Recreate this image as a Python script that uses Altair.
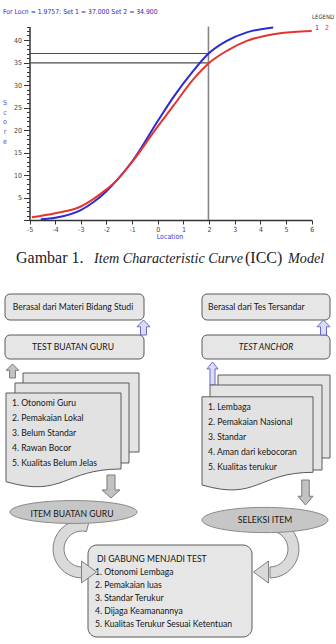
import math
import altair as alt
import pandas as pd

# ---------------- ICC chart values ----------------
location_ticks = list(range(-5, 7))
score_ticks = list(range(0, 44))
blue_x = [-4.56, -4, -3, -2.5, -2, -1.6, -1, 0, 0.61, 1.39, 2, 2.69, 3.47, 4.5]
blue_y = [0.15, 0.5, 2.2, 4.0, 6.4, 8.8, 13.0, 22.0, 27.3, 33.2, 37.1, 39.8, 41.7, 42.8]
red_x = [-4.91, -4, -3, -2.5, -2, -1.6, -1, 0, 0.61, 1.39, 2, 2.69, 3.47, 4.5, 5.28, 6.0]
red_y = [0.6, 1.5, 3.0, 4.7, 6.8, 8.8, 12.9, 20.8, 25.4, 31.3, 34.9, 37.6, 39.8, 41.3, 41.8, 42.0]
set_names = ["1", "2"]
set_colors = ["#2a2ad4", "#e5332e"]
locn = 1.9757
set_values = [37.0, 34.9]

# ---------------- text content ----------------
header = f"For Locn = {locn:.4f}: Set 1 = {set_values[0]:.3f} Set 2 = {set_values[1]:.3f}"
caption_parts = ["Gambar 1.", "Item Characteristic Curve", "(ICC)", "Model"]
box_top_left = "Berasal dari Materi Bidang Studi"
box_top_right = "Berasal dari Tes  Tersandar"
box_mid_left = "TEST BUATAN GURU"
box_mid_right = "TEST ANCHOR"
doc_left = ["1. Otonomi Guru", "2. Pemakaian Lokal", "3. Belum Standar",
            "4. Rawan Bocor", "5. Kualitas Belum Jelas"]
doc_right = ["1. Lembaga", "2. Pemakaian Nasional", "3. Standar",
             "4. Aman dari kebocoran", "5. Kualitas terukur"]
ellipse_left = "ITEM BUATAN GURU"
ellipse_right = "SELEKSI ITEM"
final_lines = ["DI GABUNG MENJADI TEST", "1. Otonomi Lembaga", "2. Pemakaian luas",
               "3. Standar  Terukur", "4. Dijaga Keamanannya",
               "5. Kualitas Terukur Sesuai Ketentuan"]

NARROW = "Liberation Sans Narrow, DejaVu Sans Condensed, Liberation Sans, sans-serif"
SERIF = "Liberation Serif, DejaVu Serif, serif"
BOXFONT = "Lato, Open Sans, sans-serif"

# ---------------- ICC group ----------------
xs = alt.Scale(domain=[-5, 6], range=[29.5, 311.7], nice=False, zero=False)
ys = alt.Scale(domain=[0, 43], range=[220, 26.5], nice=False, zero=False)

x_axis = alt.Axis(values=location_ticks, orient="bottom", offset=-424, title=None,
                  grid=False, domainColor="#333333", domainWidth=1.5, tickColor="#333333",
                  tickSize=4, tickWidth=1, labelFontSize=7, labelColor="#444444",
                  labelFont=NARROW, labelPadding=1, labelFlush=False, labelOverlap=False,
                  labelExpr="replace(datum.label, '\u2212', '-')")
y_axis = alt.Axis(values=score_ticks, orient="left", offset=-29.5, title=None, grid=False,
                  domainColor="#333333", domainWidth=1.5, tickColor="#333333", tickWidth=1,
                  tickSize={"condition": {"test": "datum.value % 5 === 0", "value": 6}, "value": 3},
                  labelExpr="datum.value % 5 === 0 && datum.value > 0 ? datum.label : ''",
                  labelFontSize=7, labelColor="#444444", labelFont=NARROW, labelPadding=2,
                  labelOverlap=False)

curves = pd.DataFrame({
    "loc": blue_x + red_x,
    "score": blue_y + red_y,
    "set": [set_names[0]] * len(blue_x) + [set_names[1]] * len(red_x),
})
href = pd.DataFrame({"x0": [-5, -5], "x1": [locn, locn], "y": set_values})
vref = pd.DataFrame({"x": [locn], "y0": [0], "y1": [43]})

h_rules = alt.Chart(href).mark_rule(color="#4d4d4d", strokeWidth=1.2).encode(
    x=alt.X("x0:Q", scale=xs, axis=x_axis), x2="x1:Q",
    y=alt.Y("y:Q", scale=ys, axis=y_axis))
v_rule = alt.Chart(vref).mark_rule(color="#858585", strokeWidth=1.6).encode(
    x=alt.X("x:Q", scale=xs, axis=x_axis), y=alt.Y("y0:Q", scale=ys, axis=y_axis), y2="y1:Q")
lines = alt.Chart(curves).mark_line(strokeWidth=2, interpolate="monotone").encode(
    x=alt.X("loc:Q", scale=xs, axis=x_axis), y=alt.Y("score:Q", scale=ys, axis=y_axis),
    color=alt.Color("set:N", scale=alt.Scale(domain=set_names, range=set_colors), legend=None))

icc = alt.layer(h_rules, v_rule, lines)

# ---------------- pixel-space group (annotations, caption, flowchart) ----------------
PX = alt.Scale(domain=[0, 336], range=[0, 336], nice=False, zero=False)
PY = alt.Scale(domain=[0, 644], range=[0, 644], nice=False, zero=False)


def xy(xf="x", yf="y"):
    return {"x": alt.X(f"{xf}:Q", scale=PX, axis=None), "y": alt.Y(f"{yf}:Q", scale=PY, axis=None)}


def texts(rows, **mk):
    df = pd.DataFrame(rows, columns=["t", "x", "y"])
    return alt.Chart(df).mark_text(**mk).encode(**xy(), text="t:N")


def rects(rows, **mk):
    df = pd.DataFrame(rows, columns=["x0", "x1", "y0", "y1"])
    return alt.Chart(df).mark_rect(**mk).encode(
        x=alt.X("x0:Q", scale=PX, axis=None), x2="x1:Q",
        y=alt.Y("y0:Q", scale=PY, axis=None), y2="y1:Q")


def symbols(rows):
    df = pd.DataFrame(rows, columns=["path", "x", "y", "size", "fill", "stroke"])
    return alt.Chart(df).mark_point(filled=True, opacity=1, strokeWidth=1).encode(
        **xy(),
        shape=alt.Shape("path:N", scale=None),
        size=alt.Size("size:Q", scale=None),
        fill=alt.Fill("fill:N", scale=None),
        stroke=alt.Stroke("stroke:N", scale=None))


def up_arrow(hw, sw, neck):
    return f"M {-sw} 1 L {-sw} {neck} L {-hw} {neck} L 0 -1 L {hw} {neck} L {sw} {neck} L {sw} 1 Z"


def down_arrow(hw, sw, neck):
    return f"M {-sw} -1 L {-sw} {neck} L {-hw} {neck} L 0 1 L {hw} {neck} L {sw} {neck} L {sw} -1 Z"


def document(h):
    return f"M -1 {-h} L 1 {-h} L 1 {-h + 1.6 * h} C 0 {-h + 1.6 * h} 0 {-h + 2.214 * h} -1 {-h + 1.868 * h} Z"


def ellipse(r):
    return f"M -1 0 A 1 {r} 0 1 1 1 0 A 1 {r} 0 1 1 -1 0 Z"


PURP_F, PURP_S = "#dcdcf4", "#6a6ac8"
GREY_F, GREY_S = "#c2c2c2", "#7a7a7a"
BOX_F, BOX_S = "#e6e6e6", "#5a5a5a"
TXT = "#151515"

annot = [
    texts([(header, 3, 12)], align="left", baseline="middle", font=NARROW, fontSize=6.8, color="#2d2dbe"),
    texts([("LEGEND", 312, 17)], align="left", baseline="middle", font=NARROW, fontSize=6, color="#333333"),
    texts([(set_names[0], 315, 28)], align="left", baseline="middle", font=NARROW, fontSize=7, color=set_colors[0]),
    texts([(set_names[1], 325, 28)], align="left", baseline="middle", font=NARROW, fontSize=7, color=set_colors[1]),
    texts([("Location", 170, 237)], align="center", baseline="middle", font=NARROW, fontSize=7, color="#3a3acc"),
    texts([(ch, 5, 103 + i * 9.7) for i, ch in enumerate("Score")], align="center", baseline="middle",
          font=NARROW, fontSize=7, color="#5050cc"),
    texts([(caption_parts[0], 16, 263), (caption_parts[2], 245, 263)], align="left", baseline="alphabetic",
          font=SERIF, fontSize=16, color="#222222"),
    texts([(caption_parts[1], 94, 263), (caption_parts[3], 288, 263)], align="left", baseline="alphabetic",
          font=SERIF, fontSize=14.2, fontStyle="italic", color="#222222"),
]

flow = [
    rects([(5, 144, 294, 320), (202, 330, 294, 320), (5, 144, 335, 359), (202, 330, 335, 359)],
          cornerRadius=5, fill=BOX_F, stroke=BOX_S, strokeWidth=1),
    symbols([
        (up_arrow(0.87, 0.4, -0.1), 143.5, 327.5, 225, PURP_F, PURP_S),
        (up_arrow(0.87, 0.4, -0.1), 323.5, 327.5, 225, PURP_F, PURP_S),
        (up_arrow(0.9, 0.42, -0.1), 12.5, 371, 196, GREY_F, GREY_S),
        (up_arrow(0.48, 0.22, -0.4), 212.5, 373.5, 529, PURP_F, PURP_S),
    ]),
    rects([(23, 139, 373, 452), (15, 129, 383, 463), (218, 330, 375, 458), (210, 322, 385, 470)],
          fill="#e4e4e4", stroke=BOX_S, strokeWidth=1),
    symbols([
        (down_arrow(0.78, 0.35, 0.3), 111, 486.5, 529, GREY_F, GREY_S),
        (down_arrow(0.6, 0.3, 0.3), 305.5, 492.5, 625, GREY_F, GREY_S),
    ]),
    symbols([
        (document(0.826), 63.5, 440.5, 13225, "#e2e2e2", BOX_S),
        (document(0.85), 257.5, 444, 12321, "#e2e2e2", BOX_S),
    ]),
    alt.Chart(pd.DataFrame({"x": [82, 270], "y": [549, 549], "ro": [29, 29], "ri": [18, 18],
                            "t0": [math.pi, 2 * math.pi - 0.25], "t1": [2 * math.pi + 0.25, 3 * math.pi]}))
    .mark_arc(fill="#dadada", stroke="#808080", strokeWidth=1)
    .encode(**xy(), theta=alt.Theta("t0:Q", scale=None, stack=None), theta2="t1:Q",
            radius=alt.Radius("ro:Q", scale=None), radius2="ri:Q"),
    symbols([
        (ellipse(0.18), 73.5, 512, 16129, "#c6c6c6", "#8a8a8a"),
        (ellipse(0.2), 265, 520, 15876, "#c6c6c6", "#8a8a8a"),
    ]),
    rects([(88, 252, 545, 637)], cornerRadius=9, fill=BOX_F, stroke=BOX_S, strokeWidth=1),
    symbols([
        ("M -0.68 -1 L 0.68 0 L -0.68 1 Z", 89, 572, 484, "#dadada", "#808080"),
        ("M 0.68 -1 L -0.68 0 L 0.68 1 Z", 261, 572, 484, "#dadada", "#808080"),
    ]),
    texts([(box_top_left, 73, 307), (box_mid_left, 73, 347), (ellipse_left, 72, 514),
           (ellipse_right, 265, 520)], align="center", baseline="middle", font=BOXFONT, fontSize=8.6,
          color=TXT),
    texts([(box_mid_right, 266, 347)], align="center", baseline="middle", font=BOXFONT, fontSize=8.6,
          fontStyle="italic", color=TXT),
    texts([(box_top_right, 208, 307)]
          + [(t, 12, 403 + i * 15) for i, t in enumerate(doc_left)]
          + [(t, 208, 407 + i * 15) for i, t in enumerate(doc_right)]
          + [(t, 97 if i == 0 else 95, 559 + i * 13) for i, t in enumerate(final_lines)],
          align="left", baseline="middle", font=BOXFONT, fontSize=8.6, color=TXT),
]

pix = alt.layer(*annot, *flow)

chart = (
    alt.layer(icc, pix)
    .resolve_scale(x="independent", y="independent")
    .properties(width=336, height=644, padding=0,
                autosize=alt.AutoSizeParams(type="none"), background="white")
    .configure_view(stroke=None)
)

chart.save("out.html", embed_options={"renderer": "svg", "actions": False})
